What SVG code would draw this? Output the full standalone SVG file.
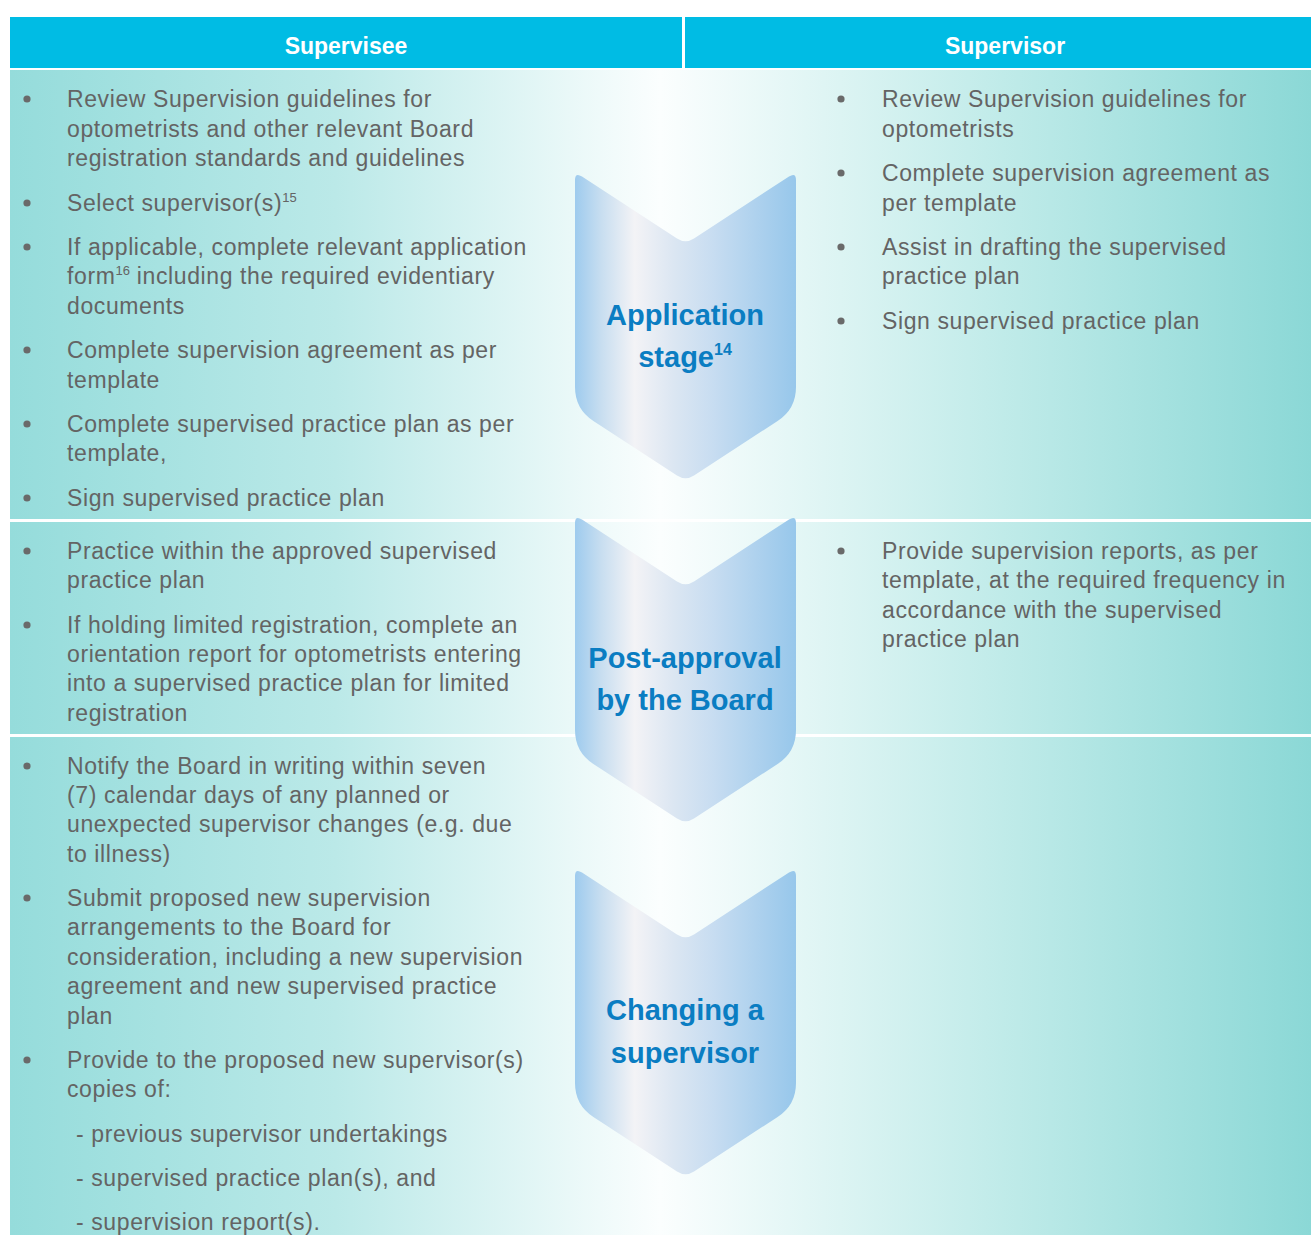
<svg xmlns="http://www.w3.org/2000/svg" width="1311" height="1235" viewBox="0 0 1311 1235">
<style>
.hd{font-family:"Liberation Sans",Arial,sans-serif;font-weight:bold;font-size:23px;fill:#ffffff;text-anchor:middle}
.tx{font-family:"Liberation Sans",Arial,sans-serif;font-size:23px;letter-spacing:0.6px;fill:#646464}
.sup{font-size:13px;letter-spacing:0}
.bl{fill:#6a6a6a}
.ch{font-family:"Liberation Sans",Arial,sans-serif;font-weight:bold;font-size:29px;fill:#0a7dc2;text-anchor:middle}
.chs{font-size:16px}
.chev{fill:url(#chevGrad)}
.sep{fill:#ffffff}
</style>
<defs>
<linearGradient id="bgGrad" x1="10" y1="0" x2="1311" y2="0" gradientUnits="userSpaceOnUse">
<stop offset="0" stop-color="#95dcdb"/>
<stop offset="0.25" stop-color="#bbe9e8"/>
<stop offset="0.5" stop-color="#fbfefe"/>
<stop offset="0.75" stop-color="#c3ecea"/>
<stop offset="1" stop-color="#8bd8d6"/>
</linearGradient>
<linearGradient id="chevGrad" x1="0" y1="0" x2="1" y2="0">
<stop offset="0" stop-color="#9ecbee"/>
<stop offset="0.12" stop-color="#c8def0"/>
<stop offset="0.27" stop-color="#f3f3f6"/>
<stop offset="0.45" stop-color="#dbe6f2"/>
<stop offset="0.62" stop-color="#c8ddf1"/>
<stop offset="1" stop-color="#97c7eb"/>
</linearGradient>
<path id="chevShape" d="M0,8 Q0,0 7,4.5 L102,66.5 Q110.5,72 119,66.5 L214,4.5 Q221,0 221,8 L221,215 Q221,237 202.6,249 L119,303.5 Q110.5,309 102,303.5 L18.4,249 Q0,237 0,215 Z"/>
</defs>

<rect x="0" y="0" width="1311" height="1235" fill="#ffffff"/>

<g id="background">
<rect x="10" y="70" width="1301" height="1165" fill="url(#bgGrad)"/>
<rect class="sep" x="10" y="519" width="1301" height="3"/>
<rect class="sep" x="10" y="734" width="1301" height="3"/>
</g>

<g id="header-supervisee">
<rect x="10" y="17" width="672" height="51" fill="#00bce4"/>
<text class="hd" x="346" y="54">Supervisee</text>
</g>
<g id="header-supervisor">
<rect x="685" y="17" width="626" height="51" fill="#00bce4"/>
<text class="hd" x="1005" y="54">Supervisor</text>
</g>

<g id="stage-application">
<use href="#chevShape" class="chev" transform="translate(575,172)"/>
<text class="ch" x="685" y="325">Application</text>
<text class="ch" x="685" y="367">stage<tspan class="chs" dy="-12">14</tspan></text>
</g>
<g id="stage-post-approval">
<use href="#chevShape" class="chev" transform="translate(575,515)"/>
<text class="ch" x="685" y="668">Post-approval</text>
<text class="ch" x="685" y="710">by the Board</text>
</g>
<g id="stage-changing">
<use href="#chevShape" class="chev" transform="translate(575,868)"/>
<text class="ch" x="685" y="1020">Changing a</text>
<text class="ch" x="685" y="1063">supervisor</text>
</g>

<g id="supervisee-application">
<circle class="bl" cx="27" cy="99" r="3.6"/>
<text class="tx" x="67" y="107">Review Supervision guidelines for</text>
<text class="tx" x="67" y="137">optometrists and other relevant Board</text>
<text class="tx" x="67" y="166">registration standards and guidelines</text>
<circle class="bl" cx="27" cy="203" r="3.6"/>
<text class="tx" x="67" y="211">Select supervisor(s)<tspan class="sup" dy="-9">15</tspan></text>
<circle class="bl" cx="27" cy="247" r="3.6"/>
<text class="tx" x="67" y="255">If applicable, complete relevant application</text>
<text class="tx" x="67" y="284">form<tspan class="sup" dy="-9">16</tspan><tspan dy="9"> including the required evidentiary</tspan></text>
<text class="tx" x="67" y="314">documents</text>
<circle class="bl" cx="27" cy="350" r="3.6"/>
<text class="tx" x="67" y="358">Complete supervision agreement as per</text>
<text class="tx" x="67" y="388">template</text>
<circle class="bl" cx="27" cy="424" r="3.6"/>
<text class="tx" x="67" y="432">Complete supervised practice plan as per</text>
<text class="tx" x="67" y="461">template,</text>
<circle class="bl" cx="27" cy="498" r="3.6"/>
<text class="tx" x="67" y="506">Sign supervised practice plan</text>
</g>

<g id="supervisor-application">
<circle class="bl" cx="841" cy="99" r="3.6"/>
<text class="tx" x="882" y="107">Review Supervision guidelines for</text>
<text class="tx" x="882" y="137">optometrists</text>
<circle class="bl" cx="841" cy="173" r="3.6"/>
<text class="tx" x="882" y="181">Complete supervision agreement as</text>
<text class="tx" x="882" y="211">per template</text>
<circle class="bl" cx="841" cy="247" r="3.6"/>
<text class="tx" x="882" y="255">Assist in drafting the supervised</text>
<text class="tx" x="882" y="284">practice plan</text>
<circle class="bl" cx="841" cy="321" r="3.6"/>
<text class="tx" x="882" y="329">Sign supervised practice plan</text>
</g>

<g id="supervisee-post-approval">
<circle class="bl" cx="27" cy="551" r="3.6"/>
<text class="tx" x="67" y="559">Practice within the approved supervised</text>
<text class="tx" x="67" y="588">practice plan</text>
<circle class="bl" cx="27" cy="625" r="3.6"/>
<text class="tx" x="67" y="633">If holding limited registration, complete an</text>
<text class="tx" x="67" y="662">orientation report for optometrists entering</text>
<text class="tx" x="67" y="691">into a supervised practice plan for limited</text>
<text class="tx" x="67" y="721">registration</text>
</g>

<g id="supervisor-post-approval">
<circle class="bl" cx="841" cy="551" r="3.6"/>
<text class="tx" x="882" y="559">Provide supervision reports, as per</text>
<text class="tx" x="882" y="588">template, at the required frequency in</text>
<text class="tx" x="882" y="618">accordance with the supervised</text>
<text class="tx" x="882" y="647">practice plan</text>
</g>

<g id="supervisee-changing">
<circle class="bl" cx="27" cy="766" r="3.6"/>
<text class="tx" x="67" y="774">Notify the Board in writing within seven</text>
<text class="tx" x="67" y="803">(7) calendar days of any planned or</text>
<text class="tx" x="67" y="832">unexpected supervisor changes (e.g. due</text>
<text class="tx" x="67" y="862">to illness)</text>
<circle class="bl" cx="27" cy="898" r="3.6"/>
<text class="tx" x="67" y="906">Submit proposed new supervision</text>
<text class="tx" x="67" y="935">arrangements to the Board for</text>
<text class="tx" x="67" y="965">consideration, including a new supervision</text>
<text class="tx" x="67" y="994">agreement and new supervised practice</text>
<text class="tx" x="67" y="1024">plan</text>
<circle class="bl" cx="27" cy="1060" r="3.6"/>
<text class="tx" x="67" y="1068">Provide to the proposed new supervisor(s)</text>
<text class="tx" x="67" y="1097">copies of:</text>
<text class="tx" x="76" y="1142">- previous supervisor undertakings</text>
<text class="tx" x="76" y="1186">- supervised practice plan(s), and</text>
<text class="tx" x="76" y="1230">- supervision report(s).</text>
</g>
</svg>
